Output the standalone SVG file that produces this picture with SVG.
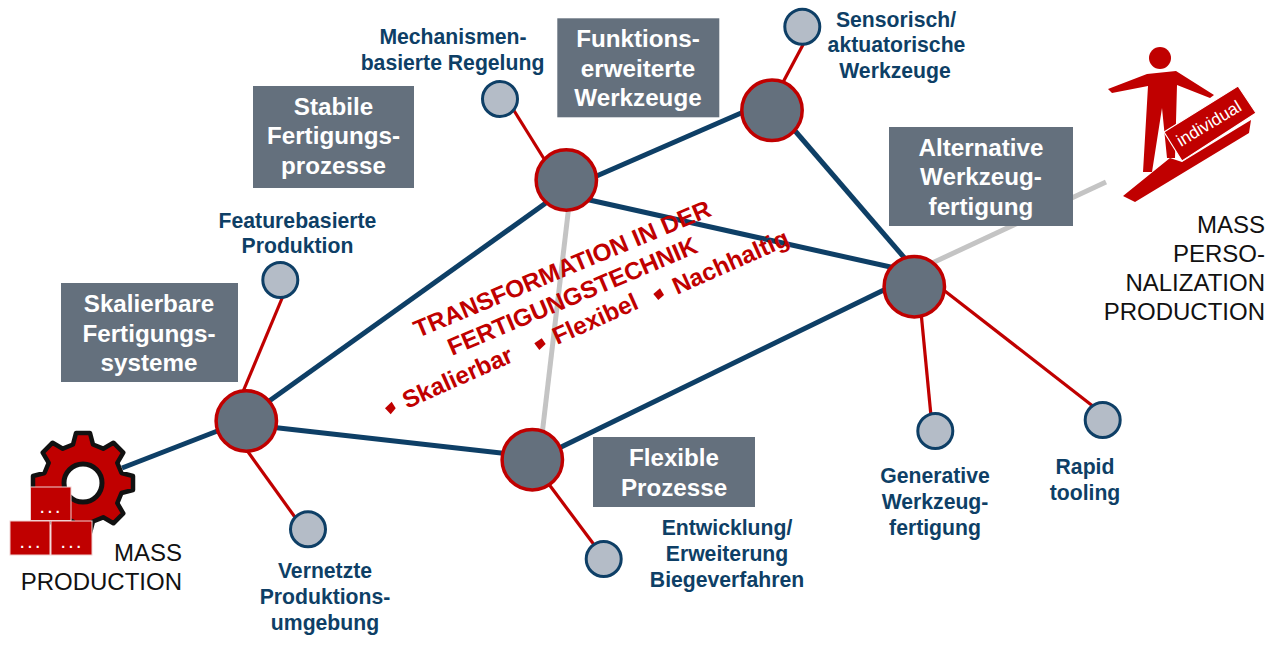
<svg xmlns="http://www.w3.org/2000/svg" width="1280" height="648" viewBox="0 0 1280 648">
<style>
text{font-family:"Liberation Sans",Arial,sans-serif}
.box{fill:#64707d}
.bt{fill:#fff;font-size:24.2px;font-weight:700;text-anchor:middle}
.lab{fill:#0e3f66;font-size:21.2px;font-weight:700;text-anchor:middle}
.blk{fill:#111;font-size:24px;text-anchor:end}
.big{fill:#64707d;stroke:#c00000;stroke-width:3.5}
.small{fill:#b4bcc7;stroke:#0e3f66;stroke-width:3}
.navy{stroke:#0e3f66;stroke-width:5;fill:none}
.red{stroke:#c00000;stroke-width:3.2;fill:none}
.grey{stroke:#c4c4c4;stroke-width:5;fill:none}
.tr{fill:#c00000;font-size:24.4px;font-weight:700}
.crate{fill:#c00000;stroke:#f0d0d0;stroke-width:1}
.dots{fill:#fff;font-size:14px;text-anchor:middle;font-weight:700}
.mark{fill:#c00000}
</style>
<g id="connectors">
<line class="grey" x1="569" y1="205" x2="542" y2="435"/>
<line class="grey" x1="930" y1="264" x2="1106" y2="182"/>
<line class="navy" x1="122" y1="468" x2="220" y2="430"/>
<line class="navy" x1="265" y1="404" x2="550" y2="200"/>
<line class="navy" x1="270" y1="427" x2="510" y2="454"/>
<line class="navy" x1="592" y1="178" x2="748" y2="110"/>
<line class="navy" x1="585" y1="199" x2="895" y2="268"/>
<line class="navy" x1="790" y1="125" x2="908" y2="262"/>
<line class="navy" x1="555" y1="450" x2="890" y2="287"/>
<line class="red" x1="242" y1="394" x2="283" y2="296"/>
<line class="red" x1="246" y1="449" x2="297" y2="520"/>
<line class="red" x1="513" y1="109" x2="546" y2="162"/>
<line class="red" x1="805" y1="41" x2="781" y2="86"/>
<line class="red" x1="548" y1="483" x2="595" y2="546"/>
<line class="red" x1="921" y1="312" x2="931" y2="416"/>
<line class="red" x1="941" y1="288" x2="1094" y2="407"/>
</g>
<g id="hub-skalierbar"><circle class="big" cx="246.3" cy="421" r="30.2"/></g>
<g id="hub-stabil"><circle class="big" cx="566.3" cy="180" r="30.2"/></g>
<g id="hub-funktion"><circle class="big" cx="772" cy="110.3" r="30.2"/></g>
<g id="hub-alternativ"><circle class="big" cx="914.3" cy="286.7" r="30.2"/></g>
<g id="hub-flexibel"><circle class="big" cx="532.3" cy="459.7" r="30.2"/></g>
<g id="leaf-feature"><circle class="small" cx="280.3" cy="280" r="17.5"/><text class="lab"><tspan x="297.500" y="228">Featurebasierte</tspan><tspan x="297.500" y="253">Produktion</tspan></text></g>
<g id="leaf-vernetzt"><circle class="small" cx="308" cy="529.3" r="17.5"/><text class="lab"><tspan x="325" y="578">Vernetzte</tspan><tspan x="325" y="604">Produktions-</tspan><tspan x="325" y="630">umgebung</tspan></text></g>
<g id="leaf-mechanismen"><circle class="small" cx="500" cy="99" r="17.5"/><text class="lab"><tspan x="453" y="44">Mechanismen-</tspan><tspan x="452.500" y="70">basierte Regelung</tspan></text></g>
<g id="leaf-sensorisch"><circle class="small" cx="802.3" cy="26.700" r="17.5"/><text class="lab"><tspan x="896" y="27">Sensorisch/</tspan><tspan x="896.500" y="52">aktuatorische</tspan><tspan x="895" y="78">Werkzeuge</tspan></text></g>
<g id="leaf-biege"><circle class="small" cx="603.7" cy="559" r="17.5"/><text class="lab"><tspan x="727" y="535">Entwicklung/</tspan><tspan x="727" y="561">Erweiterung</tspan><tspan x="727" y="587">Biegeverfahren</tspan></text></g>
<g id="leaf-generativ"><circle class="small" cx="935.3" cy="431" r="17.5"/><text class="lab"><tspan x="935" y="483">Generative</tspan><tspan x="935" y="509">Werkzeug-</tspan><tspan x="935" y="535">fertigung</tspan></text></g>
<g id="leaf-rapid"><circle class="small" cx="1102.7" cy="420" r="17.5"/><text class="lab"><tspan x="1085" y="474">Rapid</tspan><tspan x="1085" y="500">tooling</tspan></text></g>
<g id="box-stabil"><rect class="box" x="253" y="86" width="161" height="102"/><text class="bt"><tspan x="333.500" y="115">Stabile</tspan><tspan x="333.500" y="144">Fertigungs-</tspan><tspan x="333.500" y="174">prozesse</tspan></text></g>
<g id="box-funktion"><rect class="box" x="557.3" y="18.300" width="162" height="99"/><text class="bt"><tspan x="638" y="47">Funktions-</tspan><tspan x="638" y="77">erweiterte</tspan><tspan x="638" y="106">Werkzeuge</tspan></text></g>
<g id="box-alternativ"><rect class="box" x="889" y="127" width="184" height="99"/><text class="bt"><tspan x="981" y="156">Alternative</tspan><tspan x="981" y="185">Werkzeug-</tspan><tspan x="981" y="215">fertigung</tspan></text></g>
<g id="box-skalierbar"><rect class="box" x="61" y="283" width="177" height="99"/><text class="bt"><tspan x="149" y="312">Skalierbare</tspan><tspan x="149" y="342">Fertigungs-</tspan><tspan x="149" y="371">systeme</tspan></text></g>
<g id="box-flexibel"><rect class="box" x="593" y="437" width="162" height="70"/><text class="bt"><tspan x="674" y="466">Flexible</tspan><tspan x="674" y="496">Prozesse</tspan></text></g>
<g id="mass-production">
<path transform="translate(83 483)" d="M-10-38.500L-7-50L7-50L10-38.500L20.200-34.300L30.400-40.300L40.300-30.400L34.300-20.200L38.500-10L50-7L50 7L38.500 10L34.300 20.200L40.300 30.400L30.400 40.300L20.200 34.300L10 38.500L7 50L-7 50L-10 38.500L-20.200 34.300L-30.400 40.300L-40.300 30.400L-34.300 20.200L-38.500 10L-50 7L-50-7L-38.500-10L-34.300-20.200L-40.300-30.400L-30.400-40.300L-20.200-34.300Z" fill="#c00000" stroke="#111" stroke-width="4.500" stroke-linejoin="round"/>
<circle cx="83" cy="483" r="19" fill="#fff" stroke="#111" stroke-width="5"/>
<rect class="crate" x="30.500" y="487" width="40.500" height="33.500"/>
<rect class="crate" x="10" y="521" width="40" height="34"/>
<rect class="crate" x="51" y="521" width="41" height="34"/>
<text class="dots"><tspan x="50" y="513">. . .</tspan><tspan x="30" y="548">. . .</tspan><tspan x="71" y="548">. . .</tspan></text>
<text class="blk"><tspan x="182" y="561">MASS</tspan><tspan x="182" y="590">PRODUCTION</tspan></text>
</g>
<g id="mass-personalization">
<circle cx="1160" cy="58" r="11" fill="#c00000"/>
<path fill="#c00000" d="M1108 89L1112 93L1148 86L1143 172L1152 172L1162 108L1167 158L1175 158L1177 85L1210 98L1214 95L1176 71L1147 74Z"/>
<path fill="#c00000" d="M1123 196L1135 202L1249 133L1251 120L1182 162L1170 158Z"/>
<path fill="#c00000" stroke="#fff" stroke-width="1.2" d="M1164 132L1238 86L1256 113L1182 161Z"/>
<text x="1181" y="147" transform="rotate(-31 1181 147)" font-size="17.3" fill="#fff">individual</text>
<text class="blk"><tspan x="1265" y="233">MASS</tspan><tspan x="1265" y="262">PERSO-</tspan><tspan x="1265" y="291">NALIZATION</tspan><tspan x="1265" y="320">PRODUCTION</tspan></text>
</g>
<g id="transformation">
<text class="tr" x="418" y="338" transform="rotate(-22.6 418 338)">TRANSFORMATION IN DER</text>
<text class="tr" x="452" y="356" transform="rotate(-22.8 452 356)">FERTIGUNGSTECHNIK</text>
<text class="tr" x="407" y="409" transform="rotate(-24 407 409)">Skalierbar</text>
<text class="tr" x="557" y="345" transform="rotate(-24 557 345)">Flexibel</text>
<text class="tr" x="677" y="295" transform="rotate(-24 677 295)">Nachhaltig</text>
<path class="mark" d="M385 408.300L391.700 401.700L395.700 408.300L390.700 414.300Z"/>
<path class="mark" d="M534.300 343.300L541.700 338.300L545.700 344L539.300 350Z"/>
<path class="mark" d="M653.300 294L660 288.300L664 295L658.300 300Z"/>
</g>
</svg>
